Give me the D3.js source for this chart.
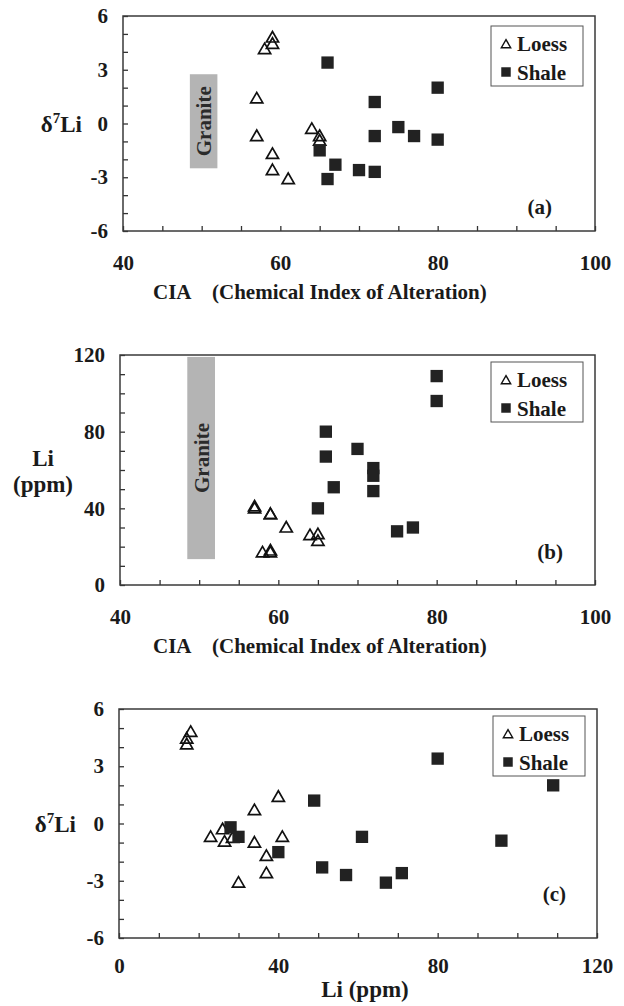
<!DOCTYPE html>
<html>
<head>
<meta charset="utf-8">
<script src="https://cdn.jsdelivr.net/npm/d3@7"></script>
<style>
  body { margin: 0; background: #fff; }
  svg text { font-family: 'Liberation Serif', 'Times New Roman', serif; font-weight: bold; fill: #1a1a1a; }
  .tick text { font-size: 21px; }
  .tick line { stroke: #333; stroke-width: 1.3; }
  .axis-title { font-size: 23px; }
  .granite { font-size: 21px; fill: #2b2b2b; }
  .legend text { font-size: 21px; }
  .panel-label { font-size: 21px; }
</style>
</head>
<body>
<svg id="chart" width="624" height="1006"></svg>
<script>
// Loess samples (no CIA value for some of them)
const loessCIA  = [59, 59, 58, 65, 64, 65, null, 57, null, 59, 59, 57, 61, null];
const loessLi   = [18, 17, 17, 23, 26, 26.5, 34, 40, 34, 37, 37, 41, 30, 28.5];
const loessD7Li = [4.8, 4.45, 4.15, -0.7, -0.3, -0.95, 0.7, 1.4, -1.0, -1.7, -2.6, -0.7, -3.1, -0.75];

// Shale samples
const shaleCIA  = [66, 80, 72, 75, 72, 77, 80, 65, 67, 70, 72, 66];
const shaleLi   = [80, 109, 49, 28, 61, 30, 96, 40, 51, 71, 57, 67];
const shaleD7Li = [3.4, 2.0, 1.2, -0.2, -0.7, -0.7, -0.9, -1.5, -2.3, -2.6, -2.7, -3.1];

// Granite range
const graniteCIA  = [48.5, 52];
const graniteD7Li = [-2.5, 2.75];
const graniteLi   = [13.5, 119];

// ticks
const ciaTicks   = d3.range(40, 101, 5);
const ciaLabels  = [40, 60, 80, 100];
const liTicks    = d3.range(0, 121, 10);
const liLabels   = [0, 40, 80, 120];
const d7liTicks  = d3.range(-6, 7, 1);
const d7liLabels = [-6, -3, 0, 3, 6];
const legendNames = ['Loess', 'Shale'];
const panelNames  = ['(a)', '(b)', '(c)'];

const svg = d3.select('#chart');

const loess = loessCIA.map((c, i) => ({cia: c, li: loessLi[i], d7li: loessD7Li[i]}));
const shale = shaleCIA.map((c, i) => ({cia: c, li: shaleLi[i], d7li: shaleD7Li[i]}));

const triangle = d3.symbol(d3.symbolTriangle, 64);
const square = d3.symbol(d3.symbolSquare, 152);

function drawPanel(p, idx) {
  const x = d3.scaleLinear().domain(p.xDomain).range([p.left, p.right]);
  const y = d3.scaleLinear().domain(p.yDomain).range([p.bottom, p.top]);
  const g = svg.append('g').attr('class', 'panel');

  // Granite band
  if (p.granite) {
    const gx0 = x(graniteCIA[0]), gx1 = x(graniteCIA[1]);
    const gy0 = y(p.granite[1]), gy1 = y(p.granite[0]);
    g.append('rect')
      .attr('x', gx0).attr('y', gy0)
      .attr('width', gx1 - gx0).attr('height', gy1 - gy0)
      .attr('fill', '#b4b4b4');
    g.append('text')
      .attr('class', 'granite')
      .attr('transform', `translate(${(gx0 + gx1) / 2},${(gy0 + gy1) / 2}) rotate(-90)`)
      .attr('text-anchor', 'middle')
      .attr('dy', '0.35em')
      .text('Granite');
  }

  // x axis (inward ticks)
  g.append('g')
    .attr('transform', `translate(0,${p.bottom})`)
    .call(d3.axisBottom(x)
      .tickValues(p.xTicks)
      .tickSizeInner(-5).tickSizeOuter(0)
      .tickPadding(p.xPad)
      .tickFormat(d => p.xLabels.includes(d) ? String(d) : ''))
    .call(a => a.select('.domain').remove());

  // y axis
  g.append('g')
    .attr('transform', `translate(${p.left},0)`)
    .call(d3.axisLeft(y)
      .tickValues(p.yTicks)
      .tickSizeInner(-5).tickSizeOuter(0)
      .tickPadding(15)
      .tickFormat(d => p.yLabels.includes(d) ? String(d) : ''))
    .call(a => a.select('.domain').remove());

  // Frame
  g.append('rect')
    .attr('x', p.left).attr('y', p.top)
    .attr('width', p.right - p.left).attr('height', p.bottom - p.top)
    .attr('fill', 'none').attr('stroke', '#3a3a3a').attr('stroke-width', 1.5);

  // Points
  const ok = d => d[p.xKey] != null && d[p.yKey] != null;
  g.selectAll('path.loess')
    .data(loess.filter(ok))
    .join('path')
      .attr('class', 'loess')
      .attr('transform', d => `translate(${x(d[p.xKey])},${y(d[p.yKey]) + 1})`)
      .attr('d', triangle)
      .attr('fill', 'none')
      .attr('stroke', '#111')
      .attr('stroke-width', 1.7);
  g.selectAll('path.shale')
    .data(shale.filter(ok))
    .join('path')
      .attr('class', 'shale')
      .attr('transform', d => `translate(${x(d[p.xKey])},${y(d[p.yKey])})`)
      .attr('d', square)
      .attr('fill', '#222');

  // Legend
  const lw = 92, lh = 60;
  const lg = g.append('g')
    .attr('class', 'legend')
    .attr('transform', `translate(${p.right - 12 - lw},${p.top + p.legendTop})`);
  lg.append('rect')
    .attr('width', lw).attr('height', lh)
    .attr('fill', '#fff').attr('stroke', '#555').attr('stroke-width', 1);
  lg.append('path')
    .attr('transform', 'translate(15,19)')
    .attr('d', d3.symbol(d3.symbolTriangle, 38)())
    .attr('fill', 'none').attr('stroke', '#111').attr('stroke-width', 1.4);
  lg.append('path')
    .attr('transform', 'translate(15,46)')
    .attr('d', d3.symbol(d3.symbolSquare, 90)())
    .attr('fill', '#222');
  lg.selectAll('text.name')
    .data(legendNames)
    .join('text')
      .attr('class', 'name')
      .attr('x', 26)
      .attr('y', (d, i) => 25 + i * 29)
      .text(d => d);

  // Panel letter
  g.append('text')
    .attr('class', 'panel-label')
    .attr('x', p.right + p.labelDx)
    .attr('y', p.bottom + p.labelDy)
    .attr('text-anchor', 'end')
    .text(panelNames[idx]);

  // Axis titles
  if (p.xTitle === 'cia') {
    const t = g.append('text').attr('class', 'axis-title')
      .attr('y', p.bottom + 68)
      .style('font-size', '21px');
    t.append('tspan').attr('x', 153).text('CIA');
    t.append('tspan').attr('x', 212).text('(Chemical Index of Alteration)');
  } else {
    g.append('text').attr('class', 'axis-title')
      .attr('x', 365).attr('y', p.bottom + 59)
      .attr('text-anchor', 'middle')
      .text('Li (ppm)');
  }

  if (p.yTitle === 'd7li') {
    const t = g.append('text').attr('class', 'axis-title')
      .attr('x', p.yTitleX).attr('y', y(0) + 8)
      .attr('text-anchor', 'end');
    t.append('tspan').text('\u03b4');
    t.append('tspan').attr('dy', -9).style('font-size', '15px').text('7');
    t.append('tspan').attr('dy', 9).text('Li');
  } else {
    g.append('text').attr('class', 'axis-title')
      .attr('x', 43).attr('y', y(60) - 4)
      .attr('text-anchor', 'middle').text('Li');
    g.append('text').attr('class', 'axis-title')
      .attr('x', 43).attr('y', y(60) + 22)
      .attr('text-anchor', 'middle').text('(ppm)');
  }
}

const panels = [
  {left: 123, right: 595, top: 16, bottom: 231,
   xKey: 'cia', yKey: 'd7li', xDomain: [40, 100], yDomain: [-6, 6],
   xTicks: ciaTicks, xLabels: ciaLabels, yTicks: d7liTicks, yLabels: d7liLabels,
   xPad: 24, granite: graniteD7Li, legendTop: 10, labelDx: -43, labelDy: -17,
   xTitle: 'cia', yTitle: 'd7li', yTitleX: 82},
  {left: 120, right: 595, top: 355, bottom: 585,
   xKey: 'cia', yKey: 'li', xDomain: [40, 100], yDomain: [0, 120],
   xTicks: ciaTicks, xLabels: ciaLabels, yTicks: liTicks, yLabels: liLabels,
   xPad: 24, granite: graniteLi, legendTop: 7, labelDx: -32, labelDy: -26,
   xTitle: 'cia', yTitle: 'li'},
  {left: 119, right: 597, top: 709, bottom: 938,
   xKey: 'li', yKey: 'd7li', xDomain: [0, 120], yDomain: [-6, 6],
   xTicks: liTicks, xLabels: liLabels, yTicks: d7liTicks, yLabels: d7liLabels,
   xPad: 20, granite: null, legendTop: 7, labelDx: -31, labelDy: -37,
   xTitle: 'li', yTitle: 'd7li', yTitleX: 76}
];

panels.forEach(drawPanel);
</script>
</body>
</html>
